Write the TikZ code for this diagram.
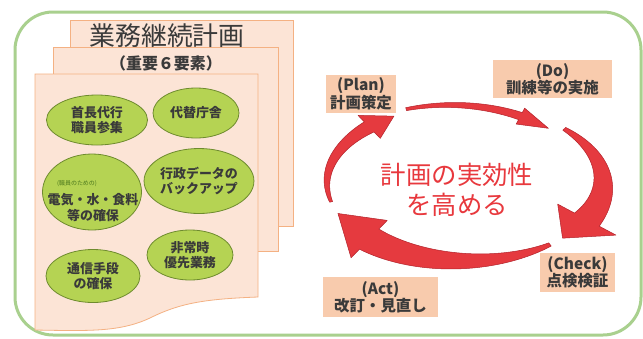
\documentclass[tikz,border=0pt]{standalone}
\usepackage{fontspec}
\setmainfont{Noto Sans CJK JP}
\newfontfamily\jp{Noto Sans CJK JP}
\usetikzlibrary{shapes.geometric}
\definecolor{framegreen}{HTML}{A9D08E}
\definecolor{pagefill}{HTML}{FCE4D6}
\definecolor{pageline}{HTML}{F4B183}
\definecolor{ellfill}{HTML}{B5D353}
\definecolor{ellline}{HTML}{6E8B2E}
\definecolor{labfill}{HTML}{F8CBAD}
\definecolor{arrowred}{HTML}{E53A3F}
\definecolor{arrowdark}{HTML}{B2222A}
\definecolor{textgray}{HTML}{3A3A3A}
\definecolor{centerred}{HTML}{E8383D}
\definecolor{smallgreen}{HTML}{4E7A1E}
\def\cx{465}\def\cy{183}\def\rx{138}\def\ry{78}
\newcommand\cycarrow[6]{%
  \filldraw[fill=arrowred,draw=arrowdark,line width=0.5bp,line join=round]
    plot[domain=#1:#2,samples=40,variable=\t]
      ({\cx+(\rx+(#4)+((#5)-(#4))*(\t-(#1))/((#2)-(#1)))*cos(\t)},
       {\cy-(\ry+(#4)+((#5)-(#4))*(\t-(#1))/((#2)-(#1)))*sin(\t)})
    -- ({\cx+(\rx+(#6))*cos(#2)},{\cy-(\ry+(#6))*sin(#2)})
    -- ({\cx+\rx*cos(#3)},{\cy-\ry*sin(#3)})
    -- ({\cx+(\rx-(#6))*cos(#2)},{\cy-(\ry-(#6))*sin(#2)})
    -- plot[domain=#2:#1,samples=40,variable=\t]
      ({\cx+(\rx-(#4)-((#5)-(#4))*(\t-(#1))/((#2)-(#1)))*cos(\t)},
       {\cy-(\ry-(#4)-((#5)-(#4))*(\t-(#1))/((#2)-(#1)))*sin(\t)})
    -- cycle;}
\tikzset{
  page/.style={fill=pagefill,draw=pageline,line width=0.8bp},
  elem/.style={ellipse,fill=ellfill,draw=ellline,line width=0.8bp,inner sep=0pt,
    font=\jp\bfseries\fontsize{13}{15.5}\selectfont,text=textgray,align=center},
  lab/.style={fill=labfill,inner sep=0pt,font=\jp\bfseries\fontsize{15.5}{17.5}\selectfont,
    text=textgray,align=center},
}
\begin{document}
\begin{tikzpicture}[x=1bp,y=-1bp]
\useasboundingbox (0,0) rectangle (643,338);
\fill[white] (0,0) rectangle (643,338);
% frame
\draw[framegreen,line width=3bp,rounded corners=38bp] (15,12) rectangle (641,335);
% pages
\draw[page] (70,20) rectangle (293,226);
\draw[page] (53,47) rectangle (278,251);
\draw[page] (35,74) -- (258,74) -- (258,297) .. controls (205,299) and (180,303) .. (150,318)
  .. controls (120,332) and (90,331) .. (35,330) -- cycle;
\node[font=\jp\fontsize{26}{28}\selectfont,text=textgray] (title) at (167,36) {業務継続計画};
\node[font=\jp\bfseries\fontsize{16}{18}\selectfont,text=textgray] (sub) at (166,63) {（重要６要素）};
% elements
\node[elem,minimum width=101bp,minimum height=50bp] (e1) at (97,120) {首長代行\\職員参集};
\node[elem,minimum width=86bp,minimum height=50bp] (e2) at (196,113) {代替庁舎};
\node[elem,minimum width=99bp,minimum height=76bp] (e3) at (92,192) {};
\node[font=\jp\fontsize{6}{7}\selectfont,text=smallgreen] (e3s) at (77,184) {(職員のための)};
\node[font=\jp\bfseries\fontsize{13}{16}\selectfont,text=textgray,align=center] (e3t) at (93,208) {電気・水・食料\\等の確保};
\node[elem,minimum width=99bp,minimum height=65bp] (e4) at (199,181) {行政データの\\バックアップ};
\node[elem,minimum width=86bp,minimum height=50bp] (e5) at (190,255) {非常時\\優先業務};
\node[elem,minimum width=94bp,minimum height=53bp] (e6) at (93,276) {通信手段\\の確保};
% cycle arrows
\begingroup
\def\cx{450}\def\cy{200}\def\rx{150}\def\ry{95}
\cycarrow{107}{62}{49}{1.5}{4}{9}
\endgroup
\cycarrow{44}{-28}{-45}{2}{14}{33}
\cycarrow{-52}{-134}{-157}{2}{14}{26}
\cycarrow{194}{134}{121}{1.5}{7}{16}
% center text
\node[font=\jp\fontsize{25.5}{30}\selectfont,text=centerred,align=center] (goal) at (457,190) {計画の実効性\\を高める};
% labels
\node[lab,minimum width=70bp,minimum height=38bp] (plan) at (361,94) {(Plan)\\計画策定};
\node[lab,minimum width=119bp,minimum height=38bp] (do) at (552.5,79) {(Do)\\訓練等の実施};
\node[lab,minimum width=75bp,minimum height=39bp] (check) at (577.5,272.5) {(Check)\\点検検証};
\node[lab,minimum width=115bp,minimum height=40bp] (act) at (380.5,297) {(Act)\\改訂・見直し};
\end{tikzpicture}
\end{document}
